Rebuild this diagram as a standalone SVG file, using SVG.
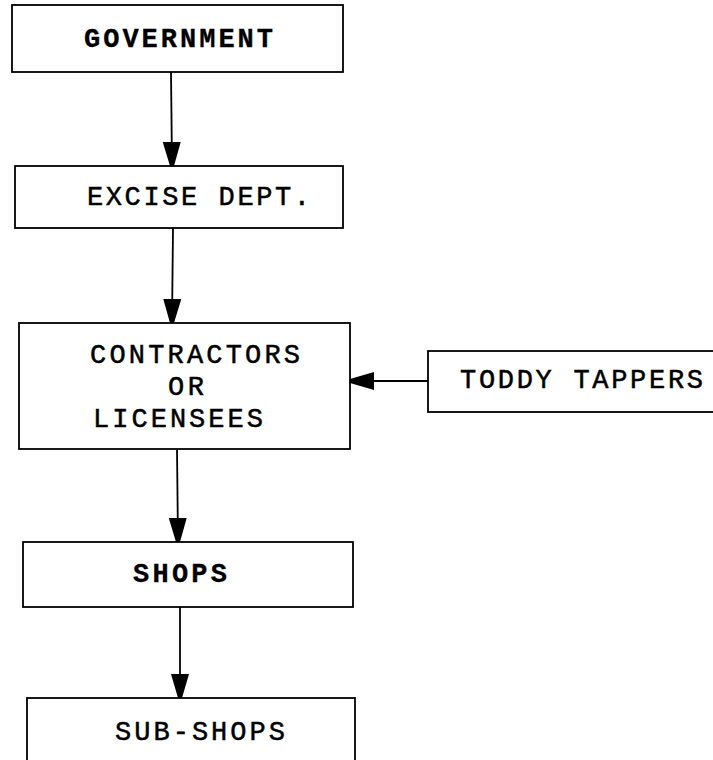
<svg xmlns="http://www.w3.org/2000/svg" width="713" height="760" viewBox="0 0 713 760">
<style>
.box{fill:#fff;stroke:#000;stroke-width:1.8}
.t{font-family:"Liberation Mono","Courier New",monospace;font-size:27px;fill:#000;stroke:#000;stroke-width:0.5}
.b{font-weight:bold;stroke-width:0.3}
.c{stroke:#000;stroke-width:1.8;fill:none}
</style>
<defs>
<marker id="ah" markerUnits="userSpaceOnUse" markerWidth="26" markerHeight="20" refX="24" refY="9" orient="auto">
<path d="M0,0 L24,7 L24,11 L0,18 Z" fill="#000"/>
</marker>
</defs>
<rect width="713" height="760" fill="#fff"/>
<g id="connectors">
<line class="c" x1="171" y1="72" x2="172" y2="166" marker-end="url(#ah)"/>
<line class="c" x1="173" y1="228" x2="172" y2="323" marker-end="url(#ah)"/>
<line class="c" x1="428" y1="381" x2="350" y2="381" marker-end="url(#ah)"/>
<line class="c" x1="177" y1="449" x2="178" y2="542" marker-end="url(#ah)"/>
<line class="c" x1="180" y1="607" x2="180" y2="698" marker-end="url(#ah)"/>
</g>
<g id="government">
<rect class="box" x="12" y="5" width="331" height="67"/>
<text class="t b" x="84" y="47" textLength="189" lengthAdjust="spacing">GOVERNMENT</text>
</g>
<g id="excise">
<rect class="box" x="15" y="166" width="328" height="62"/>
<text class="t" x="87" y="205" textLength="223" lengthAdjust="spacing">EXCISE DEPT.</text>
</g>
<g id="contractors">
<rect class="box" x="19" y="323" width="331" height="126"/>
<text class="t" x="90" y="363" textLength="210" lengthAdjust="spacing">CONTRACTORS</text>
<text class="t" x="168" y="395" textLength="36" lengthAdjust="spacing">OR</text>
<text class="t" x="93" y="427" textLength="170" lengthAdjust="spacing">LICENSEES</text>
</g>
<g id="toddy">
<rect class="box" x="428" y="351" width="300" height="61"/>
<text class="t" x="460" y="388" textLength="243" lengthAdjust="spacing">TODDY TAPPERS</text>
</g>
<g id="shops">
<rect class="box" x="23" y="542" width="330" height="65"/>
<text class="t b" x="133" y="582" textLength="94" lengthAdjust="spacing">SHOPS</text>
</g>
<g id="subshops">
<rect class="box" x="27" y="698" width="328" height="80"/>
<text class="t" x="115" y="740" textLength="170" lengthAdjust="spacing">SUB-SHOPS</text>
</g>
</svg>
